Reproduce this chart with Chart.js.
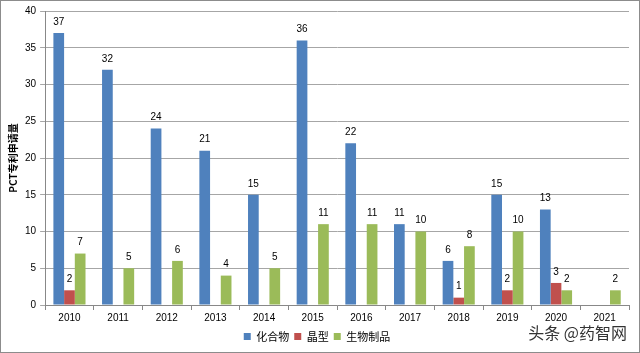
<!DOCTYPE html>
<html>
<head>
<meta charset="utf-8" />
<title>PCT专利申请量</title>
<script src="https://cdn.jsdelivr.net/npm/chart.js@4.4.0/dist/chart.umd.min.js"></script>
<style>
    html, body { margin: 0; padding: 0; background: #fff; }
    .frame {
        position: relative;
        width: 638px;
        height: 351px;
        border: 1px solid #8c8c8c;
    }
    .watermark {
        position: absolute;
        right: 12px;
        bottom: 8px;
        font-family: "Noto Sans CJK SC", sans-serif;
        font-size: 16px;
        color: #333;
    }
</style>
</head>
<body>
<div class="frame">
    <canvas id="myChart" width="638" height="351"></canvas>
    <div class="watermark">头条 @药智网</div>
</div>
<script>
var years = ['2010', '2011', '2012', '2013', '2014', '2015', '2016', '2017', '2018', '2019', '2020', '2021'];
var compound = [37, 32, 24, 21, 15, 36, 22, 11, 6, 15, 13, 0];
var crystal = [2, 0, 0, 0, 0, 0, 0, 0, 1, 2, 3, 0];
var biologic = [7, 5, 6, 4, 5, 11, 11, 10, 8, 10, 2, 2];
var yTicks = [0, 5, 10, 15, 20, 25, 30, 35, 40];

// draw the value above each bar (skip zeros, like the original)
var valueLabels = {
    id: 'valueLabels',
    afterDatasetsDraw: function (chart) {
        var ctx = chart.ctx;
        ctx.save();
        ctx.font = '10px "Liberation Sans", Arial, sans-serif';
        ctx.fillStyle = '#000';
        ctx.textAlign = 'center';
        ctx.textBaseline = 'bottom';
        chart.data.datasets.forEach(function (ds, i) {
            chart.getDatasetMeta(i).data.forEach(function (bar, j) {
                if (ds.data[j] > 0) {
                    ctx.fillText(ds.data[j], bar.x, bar.y - 6);
                }
            });
        });
        ctx.restore();
    }
};

var ctx = document.getElementById('myChart').getContext('2d');
var chart = new Chart(ctx, {
    type: 'bar',
    data: {
        labels: years,
        datasets: [
            { label: '化合物', data: compound, backgroundColor: '#4f81bd' },
            { label: '晶型', data: crystal, backgroundColor: '#c0504d' },
            { label: '生物制品', data: biologic, backgroundColor: '#9bbb59' }
        ]
    },
    options: {
        responsive: false,
        animation: false,
        layout: { padding: { top: 6, right: 10, left: 4, bottom: 0 } },
        datasets: { bar: { barPercentage: 1.0, categoryPercentage: 0.66 } },
        plugins: {
            tooltip: { enabled: false },
            legend: {
                position: 'bottom',
                labels: {
                    boxWidth: 7,
                    boxHeight: 7,
                    padding: 5,
                    color: '#000',
                    font: { size: 11, family: '"Noto Sans CJK SC", sans-serif' }
                }
            }
        },
        scales: {
            x: {
                grid: {
                    offset: true,
                    drawOnChartArea: false,
                    drawTicks: true,
                    tickLength: 5,
                    color: '#888'
                },
                border: { color: '#888' },
                ticks: {
                    color: '#000',
                    padding: 2,
                    font: { size: 10, family: '"Liberation Sans", Arial, sans-serif' }
                }
            },
            y: {
                min: 0,
                max: 40,
                afterBuildTicks: function (axis) {
                    axis.ticks = yTicks.map(function (v) { return { value: v }; });
                },
                grid: {
                    color: '#a6a6a6',
                    tickLength: 5
                },
                border: { color: '#888' },
                ticks: {
                    color: '#000',
                    padding: 4,
                    font: { size: 10, family: '"Liberation Sans", Arial, sans-serif' }
                },
                title: {
                    display: true,
                    text: 'PCT专利申请量',
                    color: '#000',
                    padding: 2,
                    font: { size: 10, weight: 'bold', family: '"Noto Sans CJK SC", sans-serif' }
                }
            }
        }
    },
    plugins: [valueLabels]
});
</script>
</body>
</html>
